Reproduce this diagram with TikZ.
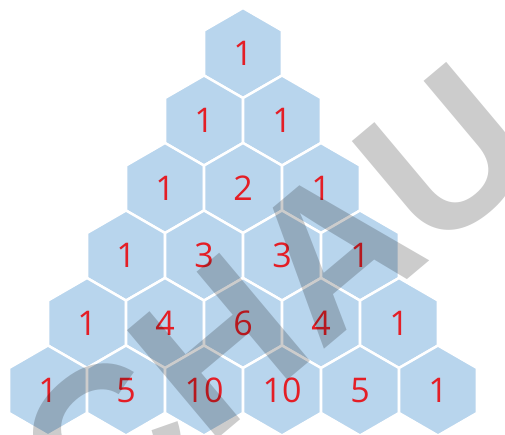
\documentclass[tikz,border=0pt]{standalone}
\usepackage{fontspec}
\usetikzlibrary{shapes.geometric}
\newfontfamily\numfont{Open Sans}
\newfontfamily\markfont{Liberation Sans}
\definecolor{hexblue}{RGB}{184,213,237}
\definecolor{numred}{RGB}{228,30,38}

\begin{document}
\begin{tikzpicture}[x=1pt,y=-1pt,
  hexcell/.style={regular polygon, regular polygon sides=6, shape border rotate=30,
    minimum size=90pt, inner sep=0pt, fill=hexblue, draw=white, line width=2.5pt,
    text=numred, font=\numfont\fontsize{34}{34}\selectfont}]
  \clip (0,0) rectangle (505,434);

  % rows of the triangle
  \foreach \r/\row in {0/{1}, 1/{1,1}, 2/{1,2,1}, 3/{1,3,3,1}, 4/{1,4,6,4,1}, 5/{1,5,10,10,5,1}}
    \foreach \v [count=\k from 0] in \row
      \node[hexcell] (n-\r-\k) at ({243+(\k-\r/2)*78}, {53+\r*67.5}) {\v};

  % watermark
  \node[anchor=base, rotate=40, inner sep=0pt, text=black, text opacity=0.2,
    font=\markfont\bfseries\fontsize{205}{205}\selectfont] (mark) at (320.5,352.5) {CHAU};
\end{tikzpicture}
\end{document}
